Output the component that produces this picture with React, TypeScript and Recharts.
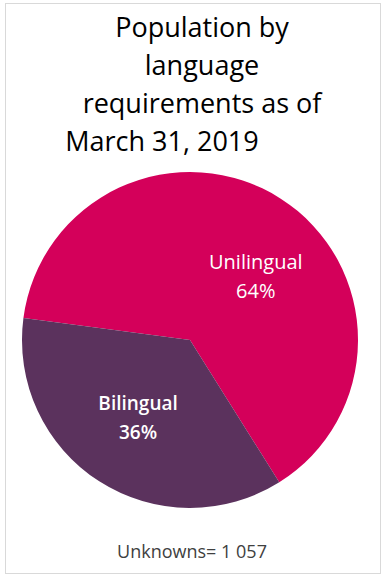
import { PieChart, Pie, Cell } from 'recharts';

// language requirement categories and their share of the population (%)
const categories = ['Unilingual', 'Bilingual'];
const shares = [64, 36];
const unknownsLabel = 'Unknowns= 1 057';

const titleLines = ['Population by', 'language', 'requirements as of', 'March 31, 2019'];

const COLORS = ['#D4005A', '#5B325D'];
const FONT = '"Open Sans", "Noto Sans", sans-serif';
const RADIAN = Math.PI / 180;

// label nudges (deg off the slice mid angle), like Excel's best-fit placement
const LABEL_ANGLE_SHIFT: Record<string, number> = { Unilingual: -12.7, Bilingual: -1.5 };

const data = categories.map((name, i) => ({ name, value: shares[i] }));

const renderLabel = (props: any) => {
  const { cx, cy, midAngle, outerRadius, name, value } = props;
  const angle = midAngle + (LABEL_ANGLE_SHIFT[name] ?? 0);
  const r = outerRadius * 0.55;
  const x = cx + r * Math.cos(-angle * RADIAN);
  const y = cy + r * Math.sin(-angle * RADIAN);
  return (
    <text
      x={x}
      y={y}
      fill="#fff"
      textAnchor="middle"
      fontFamily={FONT}
      fontSize={name === 'Bilingual' ? 19 : 20}
      fontWeight={name === 'Bilingual' ? 600 : 400}
    >
      <tspan x={x} y={y - 6}>{name}</tspan>
      <tspan x={x} y={y + 23}>{`${value}%`}</tspan>
    </text>
  );
};

export default function App() {
  return (
    <div style={{ position: 'absolute', left: 0, top: 0, width: 387, height: 578, background: '#fff' }}>
      <style>{`.recharts-pie-sectors { filter: drop-shadow(2px 3px 3px rgba(0,0,0,0.35)); }`}</style>
      <div
        style={{
          position: 'absolute',
          left: 5,
          top: 3,
          width: 374,
          height: 569,
          border: '1px solid #d9d9d9',
        }}
      />
      {titleLines.map((line, i) => (
        <div
          key={line}
          style={{
            position: 'absolute',
            left: i === 3 ? 0 : 40,
            width: 324,
            top: 8 + i * 38,
            textAlign: 'center',
            fontFamily: FONT,
            fontSize: 27,
            lineHeight: '38px',
            color: '#000',
            whiteSpace: 'nowrap',
          }}
        >
          {line}
        </div>
      ))}
      <div style={{ position: 'absolute', left: 0, top: 0 }}>
        <PieChart width={387} height={578} margin={{ top: 0, right: 0, bottom: 0, left: 0 }}>
          <Pie
            data={data}
            dataKey="value"
            nameKey="name"
            cx={190}
            cy={340}
            outerRadius={168}
            startAngle={172.5}
            endAngle={-187.5}
            stroke="none"
            labelLine={false}
            label={renderLabel}
            isAnimationActive={false}
          >
            {data.map((_, index) => (
              <Cell key={`cell-${index}`} fill={COLORS[index % COLORS.length]} />
            ))}
          </Pie>
        </PieChart>
      </div>
      <div
        style={{
          position: 'absolute',
          left: 0,
          width: 384,
          top: 536,
          textAlign: 'center',
          fontFamily: FONT,
          fontSize: 18,
          lineHeight: '30px',
          color: '#404040',
        }}
      >
        {unknownsLabel}
      </div>
    </div>
  );
}
